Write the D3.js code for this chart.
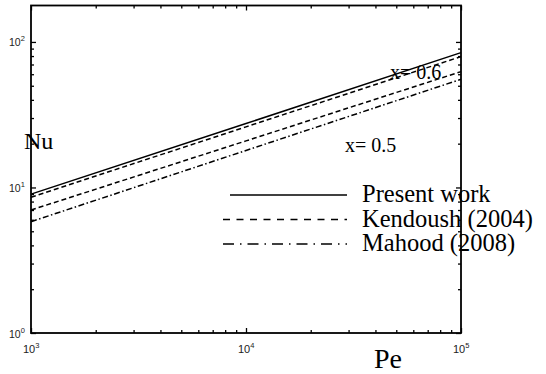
<!DOCTYPE html>
<html><head><meta charset="utf-8">
<script src="https://cdn.jsdelivr.net/npm/d3@7"></script>
<style>body{margin:0;background:#fff}svg{display:block}</style>
</head><body>
<svg id="c" width="546" height="374"></svg>
<script>
// ---- data ----
const pe = [1e3, 1e4, 1e5];
const presentWork   = [9.0, 27.5, 84.4];
const kendoushA     = [8.57, 26.1, 79.3];
const kendoushB     = [7.0, 20.9, 62.5];
const mahood        = [5.82, 17.96, 55.4];
const xMajor = [1e3, 1e4, 1e5];
const yMajor = [1, 10, 100];
const xTickLabels = [["10","3"],["10","4"],["10","5"]];
const yTickLabels = [["10","0"],["10","1"],["10","2"]];
const legendLabels = ["Present work", "Kendoush (2004)", "Mahood (2008)"];
const annotations = ["x= 0.6", "x= 0.5"];

const svg = d3.select("#c");
const L = 31, R = 461, T = 5.5, B = 333;
const x = d3.scaleLog().domain([1e3, 1e5]).range([L, R]);
const y = d3.scaleLog().domain([1, 178]).range([B, T]);

const minor = (majors, maxV) => {
  const out = [];
  majors.forEach(m => { for (let k = 2; k <= 9; k++) { const v = m * k; if (v <= maxV) out.push(v); } });
  return out;
};
const xMinor = minor([1e3, 1e4], 1e5);
const yMinor = minor([1, 10, 100], 178);

// series
const series = [
  {v: presentWork, dash: null},
  {v: kendoushA, dash: "5,3"},
  {v: kendoushB, dash: "5,3"},
  {v: mahood, dash: "6,2.5,1.5,2.5"}
];
const line = d3.line().x((d, i) => x(pe[i])).y(d => y(d));
series.forEach(s => {
  svg.append("path").attr("d", line(s.v)).attr("fill", "none")
    .attr("stroke", "#000").attr("stroke-width", 1.5)
    .attr("stroke-dasharray", s.dash);
});

// axes (inward ticks)
function ax(gen, sc, vals, size, tx, ty) {
  const g = svg.append("g").attr("transform", `translate(${tx},${ty})`)
    .call(gen(sc).tickValues(vals).tickSize(-size).tickSizeOuter(0).tickFormat(""));
  g.select(".domain").remove();
  g.selectAll("line").attr("stroke", "#000").attr("stroke-width", 1.3);
}
ax(d3.axisBottom, x, xMajor, 5, 0, B);
ax(d3.axisBottom, x, xMinor, 3, 0, B);
ax(d3.axisTop, x, xMajor, 5, 0, T);
ax(d3.axisTop, x, xMinor, 3, 0, T);
ax(d3.axisLeft, y, yMajor, 5, L, 0);
ax(d3.axisLeft, y, yMinor, 3, L, 0);
ax(d3.axisRight, y, yMajor, 5, R, 0);
ax(d3.axisRight, y, yMinor, 3, R, 0);

// tick labels
const tf = "Arial, 'Liberation Sans', sans-serif";
xMajor.forEach((v, i) => {
  const t = svg.append("text").attr("x", x(v) - 8).attr("y", 353)
    .attr("font-family", tf).attr("font-size", 11).attr("fill", "#222");
  t.append("tspan").text(xTickLabels[i][0]);
  t.append("tspan").attr("dy", -5).attr("font-size", 7.5).text(xTickLabels[i][1]);
});
yMajor.forEach((v, i) => {
  const t = svg.append("text").attr("x", 9).attr("y", y(v) + 4.5)
    .attr("font-family", tf).attr("font-size", 10.5).attr("fill", "#222");
  t.append("tspan").text(yTickLabels[i][0]);
  t.append("tspan").attr("dy", -5).attr("font-size", 7.5).text(yTickLabels[i][1]);
});

// axis titles
const serif = "'Liberation Serif', 'Times New Roman', serif";
svg.append("text").attr("x", 24).attr("y", 149).attr("font-family", serif)
  .attr("font-size", 24).text("Nu");
svg.append("text").attr("x", 374).attr("y", 368).attr("font-family", serif)
  .attr("font-size", 28).text("Pe");

// annotations
svg.append("text").attr("x", 390).attr("y", 79).attr("font-family", serif)
  .attr("font-size", 20).text(annotations[0]);
svg.append("text").attr("x", 345).attr("y", 152).attr("font-family", serif)
  .attr("font-size", 20).text(annotations[1]);

// legend
const legDash = [null, "7,6.5", "11,6,1.5,6"];
const legX = [230, 223, 223];
legendLabels.forEach((lab, i) => {
  const yy = 195 + i * 24.5;
  svg.append("line").attr("x1", legX[i]).attr("x2", 347).attr("y1", yy).attr("y2", yy)
    .attr("stroke", "#000").attr("stroke-width", 1.5).attr("stroke-dasharray", legDash[i]);
  svg.append("text").attr("x", 362).attr("y", yy + 7).attr("font-family", serif)
    .attr("font-size", 24.5).text(lab);
});

// frame
svg.append("rect").attr("x", L).attr("y", T).attr("width", R - L).attr("height", B - T)
  .attr("fill", "none").attr("stroke", "#000").attr("stroke-width", 1.8);
</script>
</body></html>
